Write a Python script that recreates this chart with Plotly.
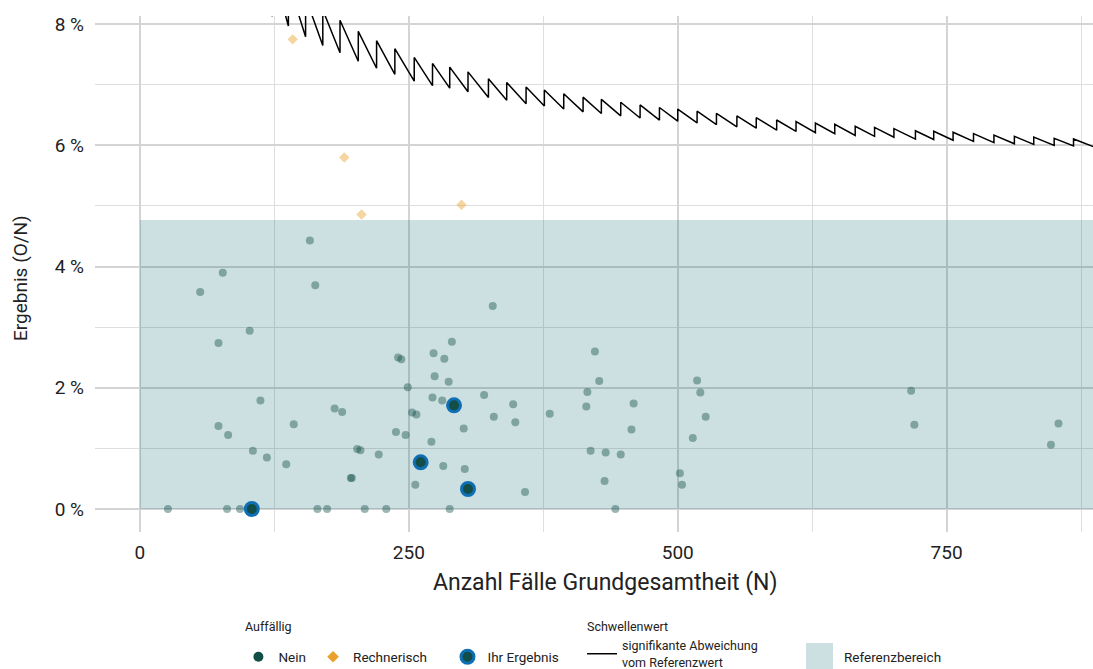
import plotly.graph_objects as go

# ---------------- data ----------------
nein_n = [26, 81, 93, 165, 174, 209, 229, 288, 442,
          158, 77, 56, 163, 102, 73,
          240, 243, 249, 112, 181, 188,
          253, 257, 73, 82, 143, 238, 247,
          105, 118, 136, 202, 205, 222,
          196, 197, 256,
          328, 290, 273, 283, 274, 287,
          272, 281, 320, 347, 329, 349,
          381, 301, 271, 282, 302, 358,
          423, 427, 416, 415, 459, 457,
          419, 433, 447, 432,
          518, 521, 526, 514, 502, 504,
          717, 720, 854, 847]
nein_y = [0.0, 0.0, 0.0, 0.0, 0.0, 0.0, 0.0, 0.0, 0.0,
          4.43, 3.90, 3.58, 3.69, 2.94, 2.74,
          2.50, 2.47, 2.01, 1.79, 1.66, 1.60,
          1.59, 1.56, 1.37, 1.22, 1.40, 1.27, 1.22,
          0.96, 0.85, 0.74, 0.99, 0.97, 0.90,
          0.51, 0.51, 0.40,
          3.35, 2.76, 2.57, 2.48, 2.19, 2.10,
          1.84, 1.79, 1.88, 1.73, 1.52, 1.43,
          1.57, 1.33, 1.11, 0.71, 0.66, 0.28,
          2.60, 2.11, 1.93, 1.69, 1.74, 1.31,
          0.96, 0.93, 0.90, 0.46,
          2.12, 1.92, 1.52, 1.17, 0.59, 0.40,
          1.95, 1.39, 1.41, 1.06]

ihr_n = [104, 261, 292, 305]
ihr_y = [0.0, 0.77, 1.71, 0.33]

rech_n = [142, 190, 206, 299]
rech_y = [7.75, 5.80, 4.86, 5.02]

# threshold line: N at each jump, value just before (lo) and just after (hi) the jump
thr_start = (110, 9.091)
thr_end = (890, 5.955)
jump_n = [123, 138, 154, 170, 186, 203, 220, 237, 255, 272, 288, 305, 324, 341, 359,
          376, 394, 412, 429, 447, 465, 483, 500, 518, 536, 555, 573, 592, 610, 628,
          646, 665, 683, 701, 721, 738, 756, 775, 794, 813, 831, 850, 868]
jump_lo = [8.130, 7.971, 7.792, 7.647, 7.527, 7.389, 7.273, 7.173, 7.059, 6.985, 6.944,
           6.885, 6.790, 6.745, 6.685, 6.649, 6.599, 6.553, 6.527, 6.488, 6.452, 6.418,
           6.400, 6.371, 6.343, 6.306, 6.283, 6.250, 6.230, 6.210, 6.192, 6.165, 6.149,
           6.134, 6.103, 6.098, 6.085, 6.065, 6.045, 6.027, 6.017, 6.000, 5.991]
jump_hi = [8.943, 8.696, 8.442, 8.235, 8.065, 7.882, 7.727, 7.595, 7.451, 7.353, 7.292,
           7.213, 7.099, 7.038, 6.964, 6.915, 6.853, 6.796, 6.760, 6.711, 6.667, 6.625,
           6.600, 6.564, 6.530, 6.486, 6.457, 6.419, 6.393, 6.369, 6.347, 6.316, 6.296,
           6.277, 6.241, 6.233, 6.217, 6.194, 6.171, 6.150, 6.137, 6.118, 6.106]

ref_lower = 0.0
ref_upper = 4.77

x_ticks = [0, 250, 500, 750]
y_ticks = [0, 2, 4, 6, 8]
y_ticktext = ["0 %", "2 %", "4 %", "6 %", "8 %"]

# ---------------- styling ----------------
FONT = "Roboto, sans-serif"
TXT = "#222222"
C_NEIN = "rgb(20,80,75)"
C_NEIN_LEG = "#134d47"
C_RECH = "#e9a12c"
C_BLUE = "#0f6fb4"
C_BAND = "rgba(0,94,105,0.2)"
x_range = [-41.8, 886.1]
y_range = [-0.38, 8.135]

thr_x = [thr_start[0]]
thr_y = [thr_start[1]]
for n, lo, hi in zip(jump_n, jump_lo, jump_hi):
    thr_x += [n, n]
    thr_y += [lo, hi]
thr_x.append(thr_end[0])
thr_y.append(thr_end[1])

fig = go.Figure()

fig.add_trace(go.Scatter(x=thr_x, y=thr_y, mode="lines",
                         line=dict(color="black", width=1.5),
                         name="signifikante Abweichung<br>vom Referenzwert",
                         legend="legend2", hoverinfo="skip"))

fig.add_trace(go.Scatter(x=nein_n, y=nein_y, mode="markers", showlegend=False,
                         marker=dict(color=C_NEIN, size=8, opacity=0.42)))
fig.add_trace(go.Scatter(x=rech_n, y=rech_y, mode="markers", showlegend=False,
                         marker=dict(color=C_RECH, size=8, symbol="diamond", opacity=0.45)))
fig.add_trace(go.Scatter(x=ihr_n, y=ihr_y, mode="markers", showlegend=False,
                         marker=dict(color=C_NEIN_LEG, size=13,
                                     line=dict(color=C_BLUE, width=3))))

# legend entries (opaque)
fig.add_trace(go.Scatter(x=[None], y=[None], mode="markers", name="Nein", legend="legend",
                         marker=dict(color=C_NEIN_LEG, size=10)))
fig.add_trace(go.Scatter(x=[None], y=[None], mode="markers", name="Rechnerisch", legend="legend5",
                         marker=dict(color=C_RECH, size=9, symbol="diamond")))
fig.add_trace(go.Scatter(x=[None], y=[None], mode="markers", name="Ihr Ergebnis", legend="legend4",
                         marker=dict(color=C_NEIN_LEG, size=13,
                                     line=dict(color=C_BLUE, width=3))))

# reference band
fig.add_shape(type="rect", xref="x", yref="y", x0=0, x1=x_range[1],
              y0=ref_lower, y1=ref_upper, fillcolor=C_BAND, line=dict(width=0),
              layer="between")

# legend key for the reference band
fig.add_shape(type="rect", xref="paper", yref="paper", x0=0.7124, x1=0.7395,
              y0=-0.27, y1=-0.2151, fillcolor=C_BAND, line=dict(width=0), layer="above")
fig.add_annotation(text="Referenzbereich", xref="paper", yref="paper", x=0.7485, y=-0.2422,
                   xanchor="left", yanchor="middle", showarrow=False,
                   font=dict(size=13.5, color=TXT))
# legend group titles
fig.add_annotation(text="Auffällig", xref="paper", yref="paper", x=0.1483, y=-0.1841,
                   xanchor="left", yanchor="middle", showarrow=False,
                   font=dict(size=12.5, color=TXT))
fig.add_annotation(text="Schwellenwert", xref="paper", yref="paper", x=0.4910, y=-0.1841,
                   xanchor="left", yanchor="middle", showarrow=False,
                   font=dict(size=12.5, color=TXT))
# axis titles
fig.add_annotation(text="Anzahl Fälle Grundgesamtheit (N)", xref="paper", yref="paper",
                   x=0.512, y=-0.0988, xanchor="center", yanchor="middle", showarrow=False,
                   font=dict(size=23, color=TXT))
fig.add_annotation(text="Ergebnis (O/N)", xref="paper", yref="paper", textangle=-90,
                   x=-0.0752, y=0.4922, xanchor="center", yanchor="middle", showarrow=False,
                   font=dict(size=19, color=TXT))

grid_major = "#d4d4d4"
grid_minor = "#dedede"
leg_common = dict(orientation="h", xanchor="left", y=-0.2422, yanchor="middle",
                  font=dict(size=13.5, color=TXT), bgcolor="rgba(0,0,0,0)")

fig.update_layout(
    width=1093, height=669,
    margin=dict(l=95, r=0, t=16, b=137, autoexpand=False),
    paper_bgcolor="white", plot_bgcolor="white",
    font=dict(family=FONT, color=TXT),
    xaxis=dict(range=x_range, tickvals=x_ticks, ticktext=[str(v) for v in x_ticks],
               showgrid=True, gridcolor=grid_major, gridwidth=2, zeroline=False,
               showline=False, ticks="", ticklabelstandoff=7,
               tickfont=dict(size=19, color=TXT),
               minor=dict(dtick=125, tick0=0, showgrid=True, gridcolor=grid_minor, gridwidth=1)),
    yaxis=dict(range=y_range, tickvals=y_ticks, ticktext=y_ticktext,
               showgrid=True, gridcolor=grid_major, gridwidth=2, zeroline=False,
               showline=False, ticks="", ticklabelstandoff=10,
               tickfont=dict(size=19, color=TXT),
               minor=dict(dtick=1, tick0=0, showgrid=True, gridcolor=grid_minor, gridwidth=1)),
    legend=dict(x=0.1437, **leg_common),
    legend5=dict(x=0.2185, **leg_common),
    legend4=dict(x=0.3532, **leg_common),
    legend2=dict(x=0.488, **{**leg_common, "y": -0.2364, "font": dict(size=12.5, color=TXT)}),
)

fig.write_html("out.html")
